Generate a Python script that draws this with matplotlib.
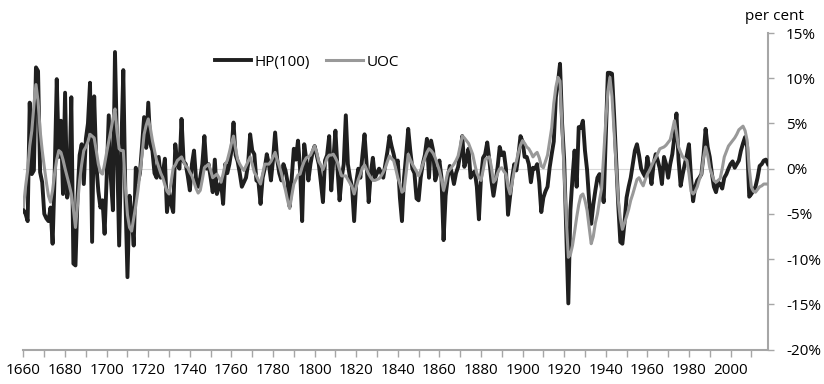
import numpy as np
import matplotlib
matplotlib.use("Agg")
import matplotlib.pyplot as plt
from matplotlib.ticker import MultipleLocator, FuncFormatter

plt.rcParams['font.family'] = ['Open Sans', 'DejaVu Sans']

first_year = 1660
last_year = 2018

# cyclical component, per cent, one value per year 1660-2018
hp100 = [
    -4.6, -5.0, -5.8, 7.3, -0.6, -0.2, 11.2, 10.8, -0.4, -1.5,      # 1660s
    -5.0, -5.5, -5.8, -4.3, -8.3, -0.5, 9.9, 1.3, 5.3, -2.8,        # 1670s
    8.4, -3.2, -2.0, 7.9, -10.5, -10.7, -3.0, 1.5, 2.7, -1.7,       # 1680s
    3.3, 5.0, 9.5, -8.1, 8.0, 0.5, -2.5, -4.3, -3.5, -7.2,          # 1690s
    -1.0, 5.9, -1.0, -4.6, 12.9, 2.0, -8.5, 2.0, 10.9, -3.0,        # 1700s
    -12.0, -3.0, -5.0, -8.5, 0.1, -1.5, -0.5, 2.5, 5.7, 2.3,        # 1710s
    7.3, 2.7, 2.0, -0.5, -1.0, 1.3, -1.0, -0.5, 1.1, -4.8,          # 1720s
    -2.5, -3.9, -4.8, 2.7, 0.5, 0.0, 5.5, 0.8, 0.5, -0.8,           # 1730s
    -2.4, 0.5, 2.0, -1.2, -2.0, -1.0, 0.5, 3.6, 0.0, 0.5,           # 1740s
    -1.0, -2.6, 1.0, -2.8, -2.0, -1.5, -3.9, 0.5, -0.5, 0.5,        # 1750s
    2.0, 5.1, 1.5, 0.8, -0.5, -2.0, -1.5, -1.0, 0.5, 3.8,           # 1760s
    2.0, 1.6, -1.3, -1.5, -3.9, -1.0, 0.0, 1.6, 0.5, -1.3,          # 1770s
    1.0, 4.0, 1.0, -0.5, -1.3, 0.5, -0.2, -1.5, -4.2, -1.0,         # 1780s
    2.2, 1.0, 3.1, 0.0, -5.8, 2.7, 1.0, -1.3, 0.5, 1.8,             # 1790s
    2.5, 1.5, 0.5, -1.5, -3.7, 0.9, 1.5, 3.6, -2.4, 1.0,            # 1800s
    4.2, 0.0, -3.5, -1.0, 0.5, 5.9, 0.5, -1.0, -2.0, -5.8,          # 1810s
    -1.5, 0.0, -1.0, 1.5, 3.8, 0.5, -3.7, -0.5, 1.2, -1.0,          # 1820s
    -0.5, 0.0, -0.5, -1.0, 0.5, 1.9, 3.6, 2.5, 1.6, 0.5,            # 1830s
    0.9, -3.2, -5.8, -1.0, 1.5, 4.4, 2.0, 0.0, -0.5, -3.3,          # 1840s
    -3.5, -1.0, 0.5, 1.5, 3.3, -1.0, 3.1, 2.0, -1.3, -0.5,          # 1850s
    0.9, -1.0, -7.9, -3.0, -1.0, 0.3, -0.5, -1.7, -0.5, 0.2,        # 1860s
    1.6, 3.6, 0.2, 1.0, 2.2, -1.0, -0.5, -0.3, -2.0, -5.6,          # 1870s
    -1.0, 1.2, 1.6, 2.9, 1.0, -1.3, -3.0, -1.5, 0.2, 2.4,           # 1880s
    1.5, 1.8, 0.0, -5.1, -3.0, -1.0, 0.5, -0.2, 1.5, 3.6,           # 1890s
    3.0, 1.3, 1.3, 0.5, -1.5, 0.1, 0.0, 0.5, -1.5, -4.8,            # 1900s
    -3.2, -2.5, -2.0, 0.1, 1.6, 3.0, 7.9, 9.5, 11.6, 5.0,           # 1910s
    1.0, -7.0, -14.9, -4.6, -1.0, 2.0, -2.0, 4.6, 4.5, 5.3,         # 1920s
    2.0, -0.1, -3.5, -6.1, -4.0, -2.4, -1.0, -0.6, -2.0, -3.7,      # 1930s
    3.3, 10.6, 10.6, 10.5, 6.0, 1.0, -4.0, -8.1, -8.3, -6.0,        # 1940s
    -3.2, -2.0, -1.0, 0.5, 2.0, 2.7, 1.5, 0.0, -0.5, -0.9,          # 1950s
    1.3, 0.0, -1.7, 0.5, 1.6, 0.9, 0.0, -1.7, 1.3, 0.5,             # 1960s
    -1.0, 0.5, 1.6, 3.5, 6.1, 1.0, -1.9, -0.6, 0.5, 1.5,            # 1970s
    2.7, -1.0, -3.6, -2.0, -1.3, -1.0, -0.6, 1.5, 4.4, 2.4,         # 1980s
    1.3, -0.5, -2.0, -2.6, -1.5, -1.7, -2.2, -1.0, -0.6, 0.0,       # 1990s
    0.5, 0.8, 0.1, 0.5, 0.9, 2.0, 2.8, 3.5, 2.4, -3.1,              # 2000s
    -2.8, -2.4, -2.0, -1.0, 0.3, 0.5, 0.9, 1.0, 0.5,                # 2010s
]

uoc = [
    -4.2, -2.0, -0.2, 2.5, 4.2, 7.0, 9.3, 7.5, 4.2, 2.0,            # 1660s
    0.2, -1.5, -3.0, -3.7, -2.4, -0.5, 1.0, 2.0, 1.8, 1.0,          # 1670s
    0.0, -0.9, -1.8, -2.8, -4.5, -6.5, -4.0, -1.3, 0.5, 2.0,        # 1680s
    2.4, 3.0, 3.8, 3.6, 3.4, 2.0, 0.5, -0.4, -0.6, 0.5,             # 1690s
    1.8, 3.0, 4.2, 5.5, 6.6, 4.0, 2.2, 2.0, 2.0, -2.0,              # 1700s
    -5.1, -6.5, -6.9, -5.5, -4.1, -2.5, -0.5, 1.5, 3.8, 4.8,        # 1710s
    5.5, 4.5, 3.1, 2.0, 0.9, 0.2, -0.5, -1.0, -1.8, -2.5,           # 1720s
    -2.8, -1.5, 0.1, 0.4, 0.9, 1.1, 1.3, 0.8, 0.3, 0.1,             # 1730s
    -0.4, -0.8, -1.5, -2.2, -2.7, -2.4, -1.2, 0.1, 0.3, 0.5,        # 1740s
    -0.2, -1.0, -0.8, -0.6, -1.0, -1.5, -0.6, 0.5, 0.9, 1.8,        # 1750s
    2.8, 3.6, 2.2, 1.0, 0.5, 0.1, -0.2, 0.3, 0.8, 1.3,              # 1760s
    0.5, -0.4, -0.8, -1.3, -1.7, -0.6, 0.5, 0.5, 0.5, 0.8,          # 1770s
    1.3, 1.8, 1.0, 0.3, -0.5, -1.5, -2.4, -3.5, -4.4, -3.0,         # 1780s
    -1.7, -1.2, -0.7, -0.6, 0.2, 0.8, 1.2, 1.3, 1.5, 2.0,           # 1790s
    2.5, 1.8, 0.8, 0.4, -0.1, 0.5, 1.2, 1.5, 1.5, 1.6,              # 1800s
    1.2, 0.7, -0.1, -0.8, -0.8, -0.8, -1.2, -1.6, -2.0, -2.8,       # 1810s
    -2.0, -1.2, -0.6, 0.1, 0.4, -0.1, -0.6, -1.0, -1.3, -1.3,       # 1820s
    -1.2, -1.1, -0.8, -0.4, 0.1, 0.8, 1.4, 1.1, 0.9, 0.0,           # 1830s
    -1.0, -1.7, -2.6, -2.4, -0.5, 1.6, 1.0, 0.5, 0.1, -0.3,         # 1840s
    -0.8, -0.2, 0.5, 1.2, 1.8, 2.2, 2.0, 1.7, 1.2, 0.5,             # 1850s
    -0.2, -1.2, -2.4, -1.5, -0.4, -0.1, 0.2, 0.5, 0.9, 1.4,         # 1860s
    2.5, 3.6, 3.4, 3.1, 2.8, 2.2, 1.6, 0.5, -0.5, -1.0,             # 1870s
    -1.3, -0.2, 1.0, 1.2, 1.3, 0.2, -1.5, -1.2, -0.5, 0.0,          # 1880s
    0.1, -0.3, -0.6, -2.0, -2.8, -1.5, -0.2, 0.8, 1.8, 2.6,         # 1890s
    3.1, 2.8, 2.4, 2.2, 1.8, 1.3, 1.6, 1.8, 1.2, 0.3,               # 1900s
    0.1, 0.8, 1.5, 3.0, 4.5, 7.2, 9.0, 10.1, 9.7, 4.5,              # 1910s
    -0.5, -5.5, -9.8, -9.5, -8.5, -7.0, -5.4, -4.0, -3.0, -2.8,     # 1920s
    -3.5, -4.6, -6.5, -8.3, -7.5, -6.0, -5.0, -3.5, -2.2, 1.5,      # 1930s
    5.2, 8.5, 10.1, 8.0, 4.2, 0.5, -3.5, -5.5, -6.7, -6.0,          # 1940s
    -5.3, -4.5, -3.5, -2.8, -2.0, -1.2, -1.0, -1.5, -1.9, -1.2,     # 1950s
    -0.6, -0.2, 0.3, 0.8, 1.2, 1.7, 2.2, 2.3, 2.4, 2.6,             # 1960s
    2.9, 3.2, 4.2, 5.3, 4.0, 2.4, 1.8, 1.3, 1.1, 0.9,               # 1970s
    -0.5, -2.5, -2.8, -2.5, -2.0, -1.2, -0.6, 1.2, 2.4, 1.5,        # 1980s
    0.1, -0.6, -1.3, -1.5, -1.3, -1.1, 0.0, 1.3, 1.9, 2.5,          # 1990s
    2.8, 3.1, 3.4, 3.8, 4.3, 4.5, 4.7, 4.2, 3.1, 0.0,               # 2000s
    -2.0, -2.5, -2.6, -2.3, -2.0, -1.9, -1.7, -1.7, -1.7,           # 2010s
]

years = np.arange(first_year, last_year + 1)

axis_grey = '#a6a6a6'

fig = plt.figure(figsize=(8.24, 3.84), dpi=100)
ax = fig.add_axes([0.0285, 0.0898, 0.9035, 0.8242])

ax.axhline(0, color='#d9d9d9', lw=0.8, zorder=1)
ax.plot(years, hp100, color='#1f1f1f', lw=2.8, label='HP(100)', zorder=3)
ax.plot(years, uoc, color='#999999', lw=2.2, label='UOC', zorder=4)

ax.set_xlim(first_year, last_year)
ax.set_ylim(-20, 15)

# y axis sits on the right
ax.yaxis.tick_right()
ax.yaxis.set_major_locator(MultipleLocator(5))
ax.yaxis.set_major_formatter(FuncFormatter(lambda v, p: '%d%%' % v))
ax.tick_params(axis='y', which='major', direction='out', length=4, width=1,
               color=axis_grey, labelsize=11, pad=9)

ax.xaxis.set_major_locator(MultipleLocator(20))
ax.xaxis.set_minor_locator(MultipleLocator(10))
ax.xaxis.set_major_formatter(FuncFormatter(lambda v, p: '%d' % v))
ax.tick_params(axis='x', which='both', direction='out', length=5, width=1,
               color=axis_grey, labelsize=11, pad=5)

for side in ['top', 'left']:
    ax.spines[side].set_visible(False)
for side in ['bottom', 'right']:
    ax.spines[side].set_color(axis_grey)
    ax.spines[side].set_linewidth(1.5)

fig.text(0.94, 0.958, 'per cent', ha='center', va='center', fontsize=11)

fig.legend(loc='center', bbox_to_anchor=(0.372, 0.8385), ncol=2, frameon=False,
           fontsize=11, handlelength=2.4, handletextpad=0.2, columnspacing=1.1,
           borderpad=0)

fig.savefig('out.png', dpi=100)
